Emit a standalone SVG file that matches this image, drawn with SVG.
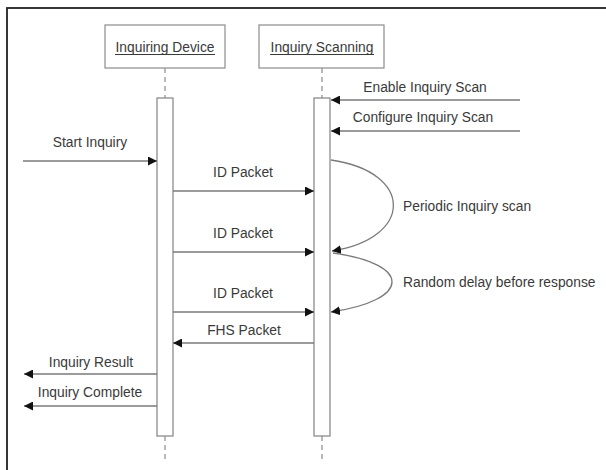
<svg xmlns="http://www.w3.org/2000/svg" width="606" height="470" viewBox="0 0 606 470">
  <style>
    .txt { font-family: "Liberation Sans", Arial, sans-serif; font-size: 13.8px; fill: #3a3a3a; }
    .mid { text-anchor: middle; }
    .head { fill: #fff; stroke: #8c8c8c; stroke-width: 1.2; }
    .bar { fill: #fff; stroke: #8c8c8c; stroke-width: 1.3; }
    .life { stroke: #8c8c8c; stroke-width: 1.2; stroke-dasharray: 5 4; fill: none; }
    .msg { stroke: #7a7a7a; stroke-width: 1.3; fill: none; marker-end: url(#arr); }
    .uline { stroke: #3a3a3a; stroke-width: 1; }
  </style>
  <defs>
    <marker id="arr" viewBox="0 0 10 10" refX="10" refY="5" markerUnits="userSpaceOnUse" markerWidth="9" markerHeight="9" orient="auto">
      <path d="M0,0 L10,5 L0,10 Z" fill="#111"/>
    </marker>
  </defs>

  <rect width="606" height="470" fill="#fff"/>
  <!-- outer frame -->
  <rect x="7" y="8" width="640" height="500" fill="none" stroke="#222" stroke-width="1.8"/>

  <!-- lifeline: Inquiring Device -->
  <g id="inquiring-device">
    <rect class="head" x="105" y="25" width="120" height="43"/>
    <text class="txt mid" x="165" y="52">Inquiring Device</text>
    <line class="uline" x1="115" y1="54.5" x2="215" y2="54.5"/>
    <line class="life" x1="165" y1="68" x2="165" y2="98"/>
    <rect class="bar" x="157" y="98" width="16" height="338"/>
    <line class="life" x1="165" y1="436" x2="165" y2="460"/>
  </g>

  <!-- lifeline: Inquiry Scanning -->
  <g id="inquiry-scanning">
    <rect class="head" x="259" y="25" width="125" height="43"/>
    <text class="txt mid" x="322" y="52">Inquiry Scanning</text>
    <line class="uline" x1="270" y1="54.5" x2="374" y2="54.5"/>
    <line class="life" x1="322" y1="68" x2="322" y2="98"/>
    <rect class="bar" x="314" y="98" width="16" height="338"/>
    <line class="life" x1="322" y1="436" x2="322" y2="460"/>
  </g>

  <!-- messages -->
  <g id="connectors">
    <line class="msg" x1="520" y1="100" x2="331" y2="100"/>
    <line class="msg" x1="520" y1="131" x2="331" y2="131"/>
    <line class="msg" x1="23" y1="161" x2="157" y2="161"/>
    <line class="msg" x1="173" y1="191" x2="314" y2="191"/>
    <path class="msg" d="M331,160 C414,172 414,238 332,251"/>
    <line class="msg" x1="173" y1="252" x2="314" y2="252"/>
    <path class="msg" d="M333,253 C412,264 412,300 331,312"/>
    <line class="msg" x1="173" y1="312" x2="314" y2="312"/>
    <line class="msg" x1="314" y1="343" x2="173" y2="343"/>
    <line class="msg" x1="157" y1="374" x2="24" y2="374"/>
    <line class="msg" x1="157" y1="406" x2="24" y2="406"/>
  </g>

  <!-- message labels -->
  <g id="labels">
    <text class="txt mid" x="425" y="92">Enable Inquiry Scan</text>
    <text class="txt mid" x="423" y="122">Configure Inquiry Scan</text>
    <text class="txt mid" x="90" y="147">Start Inquiry</text>
    <text class="txt mid" x="243" y="177">ID Packet</text>
    <text class="txt" x="403" y="211">Periodic Inquiry scan</text>
    <text class="txt mid" x="243" y="238">ID Packet</text>
    <text class="txt" x="403" y="287">Random delay before response</text>
    <text class="txt mid" x="243" y="298">ID Packet</text>
    <text class="txt mid" x="244" y="335">FHS Packet</text>
    <text class="txt mid" x="91" y="367">Inquiry Result</text>
    <text class="txt mid" x="90" y="397">Inquiry Complete</text>
  </g>
</svg>
